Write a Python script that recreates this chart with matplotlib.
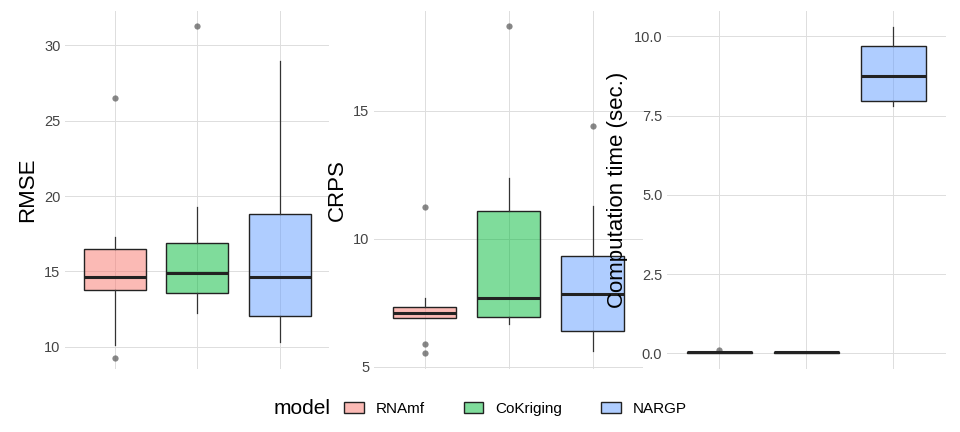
import matplotlib.pyplot as plt
from matplotlib.patches import Patch
from matplotlib.colors import to_rgba
from matplotlib.offsetbox import HPacker

plt.rcParams['font.family'] = ['Liberation Sans', 'DejaVu Sans']

models = ["RNAmf", "CoKriging", "NARGP"]
colors = ["#F8766D", "#00BA38", "#619CFF"]

# (whislo, q1, med, q3, whishi, outliers)
rmse = [(10.1, 13.8, 14.65, 16.5, 17.3, [26.5, 9.25]),
        (12.25, 13.6, 14.9, 16.9, 19.25, [31.3]),
        (10.3, 12.05, 14.65, 18.8, 29.0, [])]
crps = [(6.9, 6.9, 7.1, 7.35, 7.7, [11.25, 5.9, 5.55]),
        (6.68, 6.95, 7.67, 11.1, 12.37, [18.3]),
        (5.6, 6.4, 7.83, 9.33, 11.27, [14.4])]
ctime = [(0.02, 0.03, 0.05, 0.06, 0.08, [0.1]),
         (0.02, 0.03, 0.04, 0.05, 0.06, []),
         (7.8, 7.97, 8.73, 9.68, 10.3, [])]

panels = [("RMSE", rmse, [10, 15, 20, 25, 30], ["10", "15", "20", "25", "30"], (8.5, 32.3)),
          ("CRPS", crps, [5, 10, 15], ["5", "10", "15"], (4.9, 18.9)),
          ("Computation time (sec.)", ctime, [0, 2.5, 5, 7.5, 10],
           ["0.0", "2.5", "5.0", "7.5", "10.0"], (-0.5, 10.8))]
rects = [[0.068, 0.145, 0.275, 0.83], [0.39, 0.145, 0.28, 0.83], [0.695, 0.145, 0.29, 0.83]]

fig = plt.figure(figsize=(9.6, 4.32), dpi=100)
for (label, data, ticks, tlabels, ylim), r in zip(panels, rects):
    ax = fig.add_axes(r)
    stats = [dict(whislo=d[0], q1=d[1], med=d[2], q3=d[3], whishi=d[4], fliers=d[5]) for d in data]
    bp = ax.bxp(stats, positions=[1, 2, 3], widths=0.75, patch_artist=True,
                medianprops=dict(color="#222222", linewidth=2.2),
                whiskerprops=dict(color="#333333", linewidth=0.9),
                capprops=dict(linewidth=0),
                flierprops=dict(marker="o", markerfacecolor="#555555", markeredgecolor="none",
                                markersize=4.5, alpha=0.7))
    for b, c in zip(bp["boxes"], colors):
        b.set_facecolor(to_rgba(c, 0.5))
        b.set_edgecolor("#222222")
        b.set_linewidth(1.0)
    ax.set_xlim(0.4, 3.6)
    ax.set_ylim(*ylim)
    ax.set_yticks(ticks)
    ax.set_yticklabels(tlabels)
    ax.set_xticks([1, 2, 3])
    ax.set_xticklabels([])
    ax.set_ylabel(label, fontsize=16)
    ax.grid(True, color="#dddddd", linewidth=0.7)
    ax.set_axisbelow(True)
    for s in ax.spines.values():
        s.set_visible(False)
    ax.tick_params(length=0, labelsize=10.5, colors="#444444")

handles = [Patch(facecolor=to_rgba(c, 0.5), edgecolor="#222222", label=m) for m, c in zip(models, colors)]
leg = fig.legend(handles=handles, title="model", loc="lower center", ncol=3, frameon=False,
                 bbox_to_anchor=(0.5, 0.0), fontsize=11, title_fontsize=15,
                 columnspacing=2.5, handlelength=1.3)
title_box = leg._legend_title_box
handle_box = leg._legend_handle_box
leg._legend_box._children = [HPacker(pad=0, sep=10, align="center", children=[title_box, handle_box])]

fig.savefig("out.png")
